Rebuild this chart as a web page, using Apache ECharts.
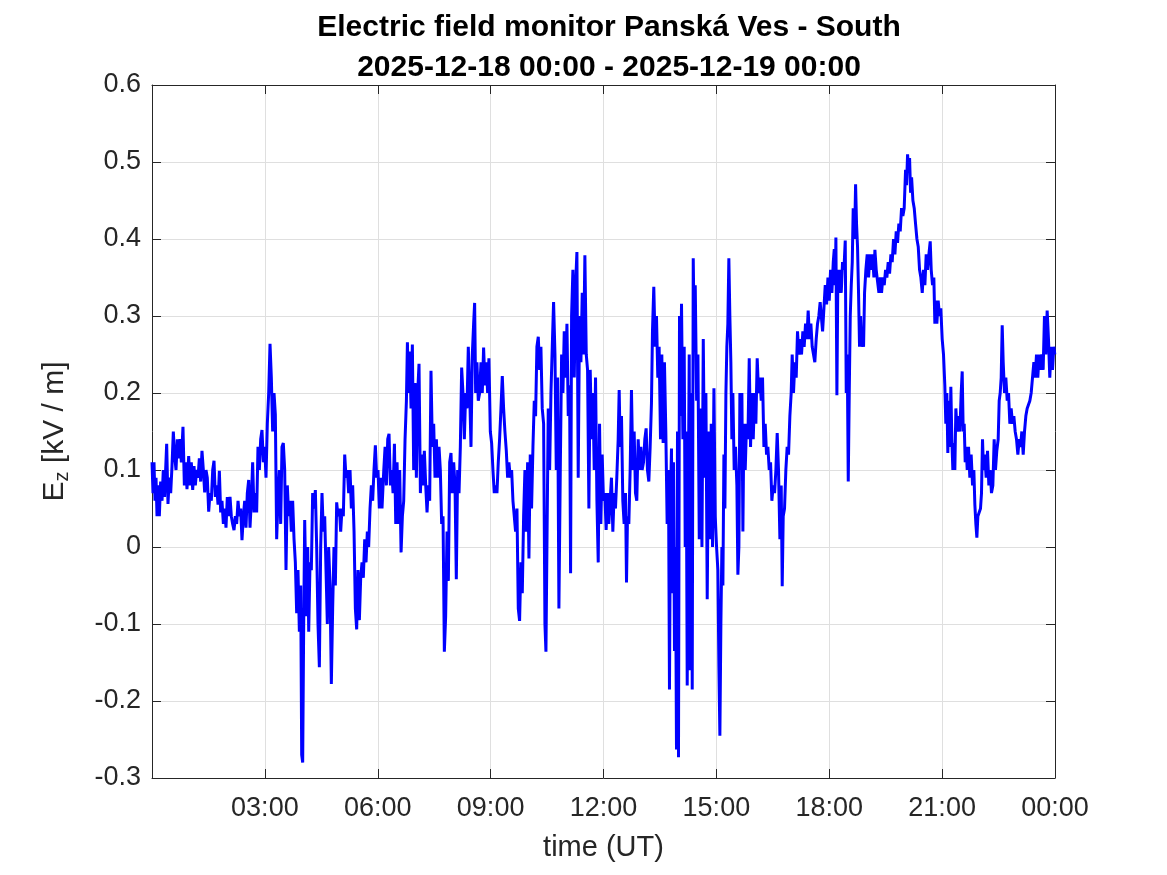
<!DOCTYPE html>
<html><head><meta charset="utf-8">
<script src="https://cdn.jsdelivr.net/npm/echarts@6/dist/echarts.min.js"></script>
<style>html,body{margin:0;padding:0;background:#fff}#c{width:1167px;height:875px}</style>
</head><body><div id="c"></div>
<script>
const titleText = 'Electric field monitor Panská Ves - South\n2025-12-18 00:00 - 2025-12-19 00:00';
const xAxisTitle = 'time (UT)';
const yTickValues = [-0.3, -0.2, -0.1, 0, 0.1, 0.2, 0.3, 0.4, 0.5, 0.6];
const xTickMinutes = [0, 180, 360, 540, 720, 900, 1080, 1260, 1440];
const xTickLabels = ['', '03:00', '06:00', '09:00', '12:00', '15:00', '18:00', '21:00', '00:00'];

// time in minutes since 2025-12-18 00:00 UT
const timeMinutes = [
0,1.6,3.2,4.8,6.4,8,9.6,11.7,13.8,16,18,20,23.4,25.5,27.6,29.8,31.9,34,36,38.3,40.4,42.5,44.7,46.8,49.4,51.6,53.7,55.8,58.5,60.6,62.7,64.9,67,69.1,71.2,73.4,75.5,77.6,79.7,81.9,84,86.1,88.2,90.4,92.5,94.6,96.8,98.9,101,103.1,105.3,107.4,109.5,111.6,113.8,115.9,118,120.1,122.3,124.4,126.5,128.6,130.8,132.9,135,137.2,139.3,141.4,143.5,145.7,147.8,149.9,152,154.2,156.3,158.4,160.5,162.7,164.8,166.9,169,171.2,173.3,175.4,177.6,179.7,181.8,183.9,186.1,188.2,190.3,192.4,194.6,196.7,198.8,200.9,203.1,205.2,207.3,209.4,211.6,213.7,215.8,218,220.1,222.2,224.3,226.5,228.6,230.7,232.8,235,237.1,238.7,240.3,241.9,243.5,245.1,246.7,248.3,249.9,252,254.1,256.2,258.4,260.5,262.6,264.7,266.9,269,271.1,273.2,275.4,277.5,279.6,281.7,283.9,286,288.1,290.2,292.4,294.5,296.6,298.8,300.9,303,305.1,307.3,309.4,311.5,313.6,315.8,317.9,320,322.2,324.3,326.4,328.5,330.7,332.8,334.9,337,339.2,341.3,343.4,345.5,347.7,349.8,351.9,354,356.2,358.3,360.4,362.5,364.7,366.8,
369.6,371.7,373.8,375.9,378,380.2,382.3,384.4,386.6,388.7,390.8,392.9,395,397.2,399.3,401.4,403.5,405.7,407.3,408.9,411,413.1,415.2,417.3,419.5,421.6,423.7,425.8,428,430.1,432.2,434.3,436.5,438.6,440.7,442.8,444.9,447.1,449.2,451.3,453.5,455.6,457.7,459.8,461.9,464.1,466.2,468.3,470.5,472.6,474.7,476.8,478.9,481.1,483.2,485.3,487.4,489.6,491.7,493.8,495.9,498.1,500.2,502.3,504.4,506.6,508.7,510.8,512.9,514.5,516.1,518.2,520.3,522.5,524.6,526.7,528.8,531,533.1,535.2,537.3,539.5,541.6,543.7,545.8,548,550.1,552.2,554.3,556.5,558.6,560.7,562.8,565,567.1,569.2,571.3,573.5,575.6,577.7,579.8,582,584.1,586.2,588.3,590.5,592.6,594.7,596.8,599,601.1,603.2,605.3,607.5,609.6,611.7,613.8,616,618.1,620.2,622.3,624.5,626.6,628.2,629.8,631.9,634.1,636.2,638.3,640.4,642.6,644.7,646.8,648.9,651.1,653.2,655.3,657.4,659.6,661.7,663.8,665.9,667.5,669.1,671.2,673.4,675.5,677.6,679.7,681.8,684,686.1,688.2,690.3,692.5,694.6,696.7,698.8,701,703.1,705.2,707.3,709.5,711.6,713.7,
715.8,717.9,720,722.1,724.2,726.4,728.5,730.6,732.7,734.9,737,739.1,741.2,743.4,745,746.6,748.7,750.8,752.9,755.1,756.7,758.3,760.4,762.5,764.6,766.8,768.9,771,773.1,775.3,777.4,779.5,781.6,783.8,785.9,788,790.1,792.3,794.4,796.5,798.1,800.2,802.4,804.5,806.6,808.7,810.9,813,815.1,817.2,819.4,821.5,823.6,825.2,826.8,828.4,830,831.6,833.2,834.8,836.4,838,839.6,841.2,842.8,844.4,846.6,848.7,850.3,851.9,853.5,855.1,856.7,858.3,859.9,861.5,863.1,864.7,866.3,868.5,870.6,872.7,874.8,877,879.1,881.2,883.3,885.4,887.6,889.7,891.8,893.9,896.1,898.2,900.3,902.4,904,905.6,907.2,908.8,910.4,912,913.6,915.2,916.7,918.3,919.9,921.5,923.1,924.7,926.3,928.4,930.5,932.7,934.3,935.9,937.5,939.1,940.7,942.3,943.9,946,948.1,950.3,952.4,954.5,956.6,958.8,960.9,963,965.1,967.3,969.4,971.5,973.6,975.8,977.9,980,982.1,984.3,986.4,988.5,990.6,992.8,994.9,997,999.1,1001.3,1003.4,1005,1006.6,1008.7,1010.8,1012.9,1015.1,1017.2,1019.3,1020.9,1023,1025.2,1027.3,1029.4,1031.5,1033.7,1035.8,1037.9,1040,1042.2,1044.3,1046.4,1048.5,1050.7,1052.8,1054.9,1057,1059.2,1061.3,1063.4,1065.5,
1067.3,1069.4,1071.5,1073.6,1075.8,1077.9,1080,1082.1,1084.2,1086.4,1088,1089.6,1090.6,1092.2,1093.8,1095.4,1097,1099.1,1101.2,1103.4,1105.5,1107.1,1108.7,1110.3,1111.9,1113.5,1115.1,1116.7,1118.2,1120.4,1122,1123.5,1125.1,1126.7,1128.3,1129.9,1131.5,1133.1,1134.7,1136.3,1138.4,1140.5,1142.7,1144.8,1146.9,1149,1151.2,1152.8,1154.9,1157,1159.2,1161.3,1163.4,1165.5,1167.7,1169.8,1171.9,1174,1176.2,1178.3,1180.4,1182.5,1184.7,1186.8,1188.9,1191,1193.2,1195.3,1197.4,1199.5,1201.7,1203.3,1204.9,1206.5,1208.1,1209.7,1211.3,1213.4,1215.5,1217.6,1219.8,1221.9,1224,1226.1,1228.3,1230.4,1232.5,1234.6,1236.8,1238.9,1241,1242.6,1244.7,1246.8,1248.4,1250,1251.6,1253.7,1255.8,1257.9,1260.1,1262.2,1264.3,1265.9,1267.5,1269.1,1270.7,1272.3,1273.9,1275.5,1277.1,1278.7,1280.3,1281.9,1284,1286.1,1288.3,1290.4,1292,1293.6,1295.2,1296.8,1298.4,1300,1302.1,1304.2,1306.3,1308.5,1310.6,1312.2,1313.8,1315.4,1317,1319.1,1321.2,1322.8,1324.4,1326,1328.1,1330.2,1332.4,1334.5,1336.6,1338.7,1340.9,1343,1345.1,1347.2,1349.4,1351,1352.6,1354.2,1355.8,1357.4,1359.5,1361.6,1363.8,1365.9,1368,1370.1,1372.3,1374.4,1376.5,1378.6,1380.8,1382.9,1385,1387.1,1389.3,1391.4,1393.5,1395.6,1397.8,1399.9,1402,1404.1,1406.3,1408.4,1410.5,1412.6,1414.7,1416.9,1419,1421.1,1423.2,1425.4,1427.5,1429.6,1431.7,1433.9,1436,1438.1,1439.7
];

// vertical electric field Ez in kV/m
const fieldValues = [
0.11,0.07,0.11,0.06,0.09,0.04,0.08,0.04,0.085,0.06,0.1,0.065,0.134,0.056,0.09,0.07,0.105,0.15,0.12,0.1,0.14,0.115,0.14,0.11,0.156,0.08,0.11,0.075,0.118,0.08,0.11,0.074,0.105,0.08,0.1,0.09,0.115,0.085,0.125,0.1,0.071,0.1,0.09,0.046,0.07,0.06,0.1,0.112,0.065,0.08,0.055,0.099,0.045,0.06,0.03,0.05,0.025,0.065,0.04,0.065,0.04,0.03,0.022,0.04,0.03,0.06,0.04,0.05,0.009,0.04,0.06,0.025,0.07,0.087,0.025,0.06,0.11,0.045,0.07,0.045,0.13,0.1,0.14,0.152,0.11,0.13,0.09,0.16,0.2,0.264,0.22,0.15,0.2,0.172,0.01,0.06,0.1,0.03,0.13,0.135,0.1,-0.03,0.08,0.04,0.06,0.02,0.06,0.01,-0.02,-0.086,-0.03,-0.11,-0.05,-0.27,-0.28,-0.1,0.035,-0.04,-0.09,0.0,-0.11,-0.02,-0.03,0.07,0.05,0.074,0.0,-0.1,-0.156,0.0,0.07,0.02,0.04,-0.03,-0.1,0.0,-0.05,-0.178,-0.08,0.0,-0.05,0.058,0.04,0.05,0.02,0.05,0.04,0.12,0.09,0.1,0.07,0.1,0.05,0.08,0.02,-0.08,-0.107,-0.03,-0.095,-0.04,-0.02,-0.04,0.01,-0.02,0.02,0.0,0.05,0.08,0.06,0.1,0.132,0.09,0.1,0.05,0.09,0.05,
0.1,0.13,0.08,0.14,0.147,0.08,0.1,0.07,0.134,0.03,0.11,0.03,0.1,-0.007,0.04,0.06,0.139,0.19,0.266,0.2,0.254,0.18,0.263,0.1,0.213,0.09,0.2,0.238,0.07,0.12,0.08,0.125,0.08,0.045,0.08,0.06,0.229,0.13,0.16,0.09,0.14,0.09,0.13,0.1,0.03,0.04,-0.136,-0.09,0.02,-0.044,0.11,0.122,0.07,0.11,0.08,-0.042,0.1,0.07,0.13,0.233,0.2,0.14,0.2,0.18,0.26,0.2,0.13,0.25,0.29,0.317,0.2,0.24,0.19,0.2,0.24,0.2,0.259,0.21,0.24,0.2,0.245,0.15,0.135,0.1,0.07,0.08,0.07,0.11,0.14,0.18,0.222,0.18,0.15,0.125,0.09,0.11,0.09,0.1,0.06,0.06,0.02,0.05,-0.08,-0.096,-0.02,-0.06,0.04,0.1,0.02,0.11,-0.015,0.12,0.05,0.13,0.19,0.17,0.26,0.273,0.23,0.26,0.18,0.16,-0.1,-0.136,0.0,0.18,0.1,0.2,0.26,0.318,0.25,0.1,0.22,-0.08,0.1,0.25,0.2,0.28,0.22,0.29,0.17,0.21,-0.034,0.3,0.36,0.22,0.34,0.383,0.09,0.3,0.24,0.33,0.25,0.379,0.25,0.23,0.05,0.23,0.14,0.2,0.1,0.22,0.06,-0.02,0.16,
0.03,0.12,0.06,0.07,0.022,0.07,0.03,0.06,0.09,0.02,0.07,0.05,0.09,0.14,0.204,0.13,0.17,0.06,0.03,0.07,-0.046,0.04,0.03,0.1,0.204,0.1,0.15,0.07,0.06,0.14,0.1,0.13,0.1,0.11,0.14,0.154,0.1,0.085,0.13,0.187,0.28,0.338,0.26,0.3,0.22,0.26,0.14,0.25,0.135,0.24,0.15,0.03,0.1,-0.185,0.06,0.128,-0.06,0.11,-0.135,0.0,-0.263,0.15,-0.273,0.3,0.17,0.316,0.14,0.26,0.0,0.15,-0.18,0.05,0.25,-0.16,0.2,-0.185,0.375,0.27,0.34,0.19,0.25,0.01,0.18,0.0,0.27,0.09,0.2,-0.068,0.15,0.01,0.16,0.0,0.206,0.04,0.0,-0.03,-0.155,-0.245,-0.1,0.0,-0.05,0.12,0.05,0.2,0.26,0.29,0.375,0.3,0.24,0.14,0.2,0.1,0.13,0.08,-0.036,0.0,0.2,0.1,0.2,0.02,0.16,0.1,0.16,0.14,0.245,0.13,0.2,0.14,0.2,0.16,0.245,0.2,0.22,0.19,0.22,0.13,0.16,0.12,0.13,0.1,0.11,0.06,0.08,0.07,0.1,0.148,0.1,0.01,0.08,-0.051,0.04,0.05,0.1,0.13,0.12,0.17,0.2,0.25,0.2,0.24,0.22,0.28,0.25,0.27,0.25,0.28,0.26,0.29,0.27,0.307,0.27,0.29,0.26,0.26,0.24,0.27,0.29,0.3,0.318,
0.3,0.28,0.31,0.34,0.315,0.35,0.32,0.36,0.33,0.37,0.387,0.34,0.402,0.197,0.36,0.33,0.36,0.33,0.37,0.36,0.398,0.2,0.25,0.085,0.2,0.3,0.34,0.37,0.44,0.4,0.471,0.42,0.39,0.33,0.26,0.3,0.26,0.28,0.26,0.33,0.36,0.38,0.35,0.38,0.36,0.38,0.35,0.386,0.36,0.345,0.33,0.35,0.33,0.35,0.34,0.36,0.35,0.37,0.355,0.38,0.37,0.4,0.38,0.41,0.395,0.42,0.41,0.44,0.43,0.44,0.49,0.47,0.51,0.49,0.505,0.46,0.48,0.45,0.44,0.42,0.4,0.39,0.36,0.35,0.33,0.36,0.34,0.38,0.36,0.38,0.397,0.36,0.34,0.35,0.29,0.32,0.29,0.32,0.3,0.31,0.27,0.25,0.21,0.16,0.2,0.122,0.19,0.13,0.208,0.14,0.1,0.135,0.1,0.18,0.15,0.17,0.15,0.2,0.228,0.15,0.16,0.11,0.13,0.1,0.13,0.09,0.12,0.08,0.1,0.055,0.03,0.012,0.04,0.04,0.05,0.07,0.14,0.1,0.12,0.09,0.125,0.08,0.1,0.07,0.08,0.14,0.1,0.125,0.14,0.19,0.2,0.22,0.288,0.24,0.2,0.22,0.19,0.2,0.16,0.18,0.16,0.17,0.15,0.14,0.12,0.14,0.13,0.15,0.12,0.15,0.17,0.18,0.18,0.19,0.2,0.2,0.24,0.22,0.25,0.22,0.25,0.23,0.25,0.23,0.3,0.25,0.307,0.27,0.22,0.26,0.23,0.26,0.25
];

const seriesData = timeMinutes.map((t, i) => [t, fieldValues[i]]);
const FONT = 'Liberation Sans, Arial, Helvetica, sans-serif';
const AX = '#262626';

const chart = echarts.init(document.getElementById('c'), null, {renderer: 'canvas'});
const xBase = {
  type: 'value', min: xTickMinutes[0], max: xTickMinutes[xTickMinutes.length - 1], interval: 180,
  axisLine: {show: true, onZero: false, lineStyle: {color: AX, width: 1}},
  axisTick: {show: true, inside: true, length: 9, lineStyle: {color: AX}},
};
const yBase = {
  type: 'value', min: yTickValues[0], max: yTickValues[yTickValues.length - 1], interval: 0.1,
  axisLine: {show: true, onZero: false, lineStyle: {color: AX, width: 1}},
  axisTick: {show: true, inside: true, length: 9, lineStyle: {color: AX}},
};
chart.setOption({
  animation: false,
  backgroundColor: '#ffffff',
  title: {
    text: titleText, left: 604, top: 3, textAlign: 'center',
    textStyle: {fontFamily: FONT, fontSize: 30, fontWeight: 'bold', color: '#000', lineHeight: 40}
  },
  grid: {left: 152, right: 112, top: 85, bottom: 97, containLabel: false},
  xAxis: [
    Object.assign({}, xBase, {
      position: 'bottom',
      name: xAxisTitle, nameLocation: 'middle', nameGap: 55,
      nameTextStyle: {fontFamily: FONT, fontSize: 29, color: AX},
      axisLabel: {
        fontFamily: FONT, fontSize: 27, color: AX, margin: 17,
        formatter: v => { const i = xTickMinutes.indexOf(v); return i >= 0 ? xTickLabels[i] : ''; }
      },
      splitLine: {show: true, lineStyle: {color: '#dfdfdf', width: 1}}
    }),
    Object.assign({}, xBase, {position: 'top', axisLabel: {show: false}, splitLine: {show: false}})
  ],
  yAxis: [
    Object.assign({}, yBase, {
      position: 'left',
      name: 'E{sub|z} [kV / m]', nameLocation: 'middle', nameGap: 80, nameRotate: 90,
      nameTextStyle: {fontFamily: FONT, fontSize: 30, color: AX, lineHeight: 34,
        rich: {sub: {fontFamily: FONT, fontSize: 20, color: AX, verticalAlign: 'bottom', lineHeight: 12}}},
      axisLabel: {
        fontFamily: FONT, fontSize: 27, color: AX, margin: 11,
        formatter: v => String(Math.round(v * 10) / 10)
      },
      splitLine: {show: true, lineStyle: {color: '#dfdfdf', width: 1}}
    }),
    Object.assign({}, yBase, {position: 'right', axisLabel: {show: false}, splitLine: {show: false}})
  ],
  series: [{
    type: 'line', xAxisIndex: 0, yAxisIndex: 0, data: seriesData,
    showSymbol: false, symbol: 'none', smooth: false,
    lineStyle: {color: '#0000ff', width: 3}, z: 3
  }]
});
</script></body></html>
